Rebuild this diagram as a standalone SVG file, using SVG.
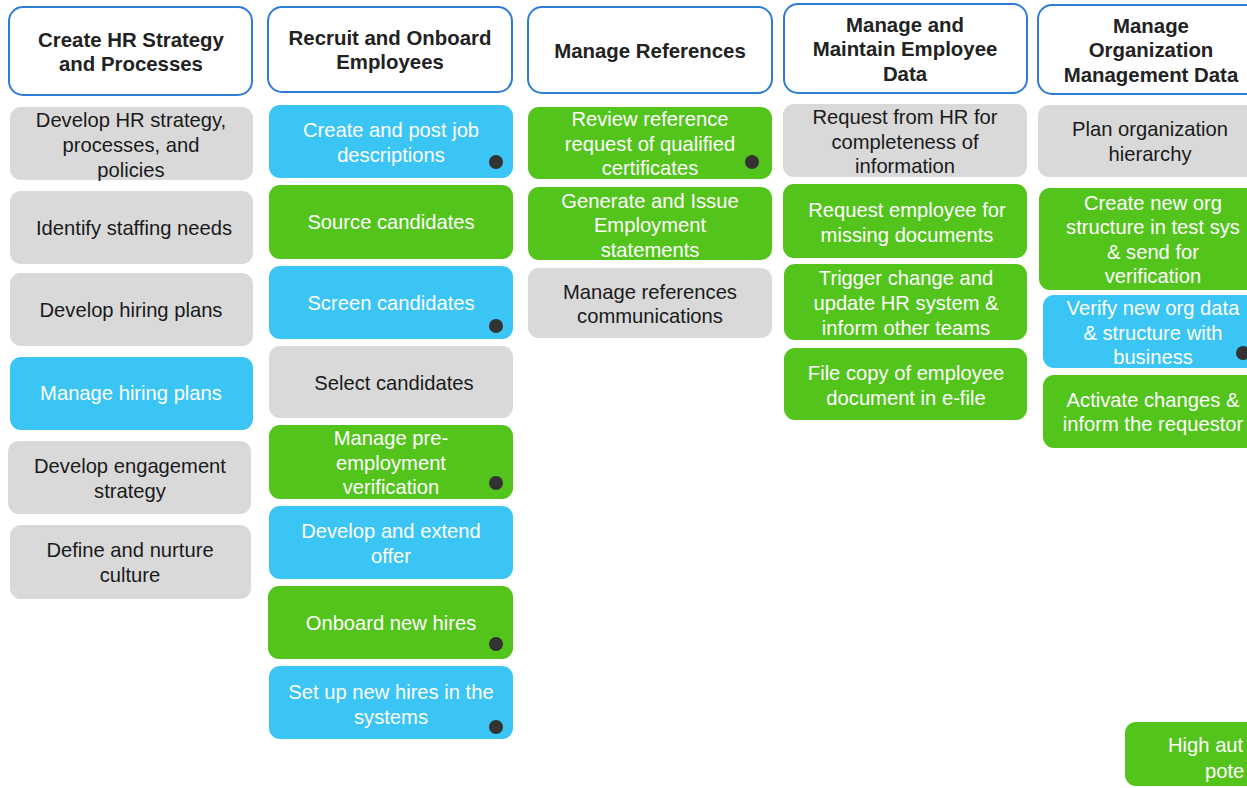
<svg xmlns="http://www.w3.org/2000/svg" width="1247" height="788" viewBox="0 0 1247 788">
<style>
.hd{fill:#ffffff;stroke:#2e7cd6;stroke-width:2}
.ht{font-family:"Liberation Sans",Arial,sans-serif;font-weight:bold;font-size:20.4px;fill:#222222;text-anchor:middle}
.g{fill:#d9d9d9}
.b{fill:#3ac5f5}
.gr{fill:#53c41b}
.t{font-family:"Liberation Sans",Arial,sans-serif;font-size:20.2px;text-anchor:middle}
.dk{fill:#1a1a1a}
.wt{fill:#ffffff}
.dot{fill:#333333}
</style>
<rect width="1247" height="788" fill="#ffffff"/>

<!-- Headers -->
<g id="h1"><rect class="hd" x="9" y="7" width="243" height="88" rx="14"/><text class="ht"><tspan x="131" y="47">Create HR Strategy</tspan><tspan x="131" y="71">and Processes</tspan></text></g>
<g id="h2"><rect class="hd" x="268" y="7" width="244" height="85" rx="14"/><text class="ht"><tspan x="390" y="45">Recruit and Onboard</tspan><tspan x="390" y="69">Employees</tspan></text></g>
<g id="h3"><rect class="hd" x="528" y="7" width="244" height="86" rx="14"/><text class="ht"><tspan x="650" y="58">Manage References</tspan></text></g>
<g id="h4"><rect class="hd" x="784" y="4" width="243" height="89" rx="14"/><text class="ht"><tspan x="905" y="32">Manage and</tspan><tspan x="905" y="56">Maintain Employee</tspan><tspan x="905" y="81">Data</tspan></text></g>
<g id="h5"><rect class="hd" x="1038" y="5" width="227" height="89" rx="14"/><text class="ht"><tspan x="1151" y="33">Manage</tspan><tspan x="1151" y="57">Organization</tspan><tspan x="1151" y="82">Management Data</tspan></text></g>

<!-- Column 1 -->
<g id="c1n1"><rect class="g" x="10" y="107" width="243" height="73" rx="11"/><text class="t dk"><tspan x="131" y="127">Develop HR strategy,</tspan><tspan x="131" y="152">processes, and</tspan><tspan x="131" y="177">policies</tspan></text></g>
<g id="c1n2"><rect class="g" x="10" y="191" width="243" height="73" rx="11"/><text class="t dk"><tspan x="134" y="235">Identify staffing needs</tspan></text></g>
<g id="c1n3"><rect class="g" x="10" y="273" width="243" height="73" rx="11"/><text class="t dk"><tspan x="131" y="317">Develop hiring plans</tspan></text></g>
<g id="c1n4"><rect class="b" x="10" y="357" width="243" height="73" rx="11"/><text class="t wt"><tspan x="131" y="400">Manage hiring plans</tspan></text></g>
<g id="c1n5"><rect class="g" x="8" y="441" width="243" height="73" rx="11"/><text class="t dk"><tspan x="130" y="473">Develop engagement</tspan><tspan x="130" y="498">strategy</tspan></text></g>
<g id="c1n6"><rect class="g" x="10" y="525" width="241" height="74" rx="11"/><text class="t dk"><tspan x="130" y="557">Define and nurture</tspan><tspan x="130" y="582">culture</tspan></text></g>

<!-- Column 2 -->
<g id="c2n1"><rect class="b" x="269" y="105" width="244" height="73" rx="11"/><text class="t wt"><tspan x="391" y="137">Create and post job</tspan><tspan x="391" y="162">descriptions</tspan></text><circle class="dot" cx="496" cy="162" r="7"/></g>
<g id="c2n2"><rect class="gr" x="269" y="185" width="244" height="74" rx="11"/><text class="t wt"><tspan x="391" y="229">Source candidates</tspan></text></g>
<g id="c2n3"><rect class="b" x="269" y="266" width="244" height="73" rx="11"/><text class="t wt"><tspan x="391" y="310">Screen candidates</tspan></text><circle class="dot" cx="496" cy="326" r="7"/></g>
<g id="c2n4"><rect class="g" x="269" y="346" width="244" height="72" rx="11"/><text class="t dk"><tspan x="394" y="390">Select candidates</tspan></text></g>
<g id="c2n5"><rect class="gr" x="269" y="425" width="244" height="74" rx="11"/><text class="t wt"><tspan x="391" y="445">Manage pre-</tspan><tspan x="391" y="470">employment</tspan><tspan x="391" y="494">verification</tspan></text><circle class="dot" cx="496" cy="483" r="7"/></g>
<g id="c2n6"><rect class="b" x="269" y="506" width="244" height="73" rx="11"/><text class="t wt"><tspan x="391" y="538">Develop and extend</tspan><tspan x="391" y="563">offer</tspan></text></g>
<g id="c2n7"><rect class="gr" x="268" y="586" width="245" height="73" rx="11"/><text class="t wt"><tspan x="391" y="630">Onboard new hires</tspan></text><circle class="dot" cx="496" cy="644" r="7"/></g>
<g id="c2n8"><rect class="b" x="269" y="666" width="244" height="73" rx="11"/><text class="t wt"><tspan x="391" y="699">Set up new hires in the</tspan><tspan x="391" y="724">systems</tspan></text><circle class="dot" cx="496" cy="727" r="7"/></g>

<!-- Column 3 -->
<g id="c3n1"><rect class="gr" x="528" y="107" width="244" height="72" rx="11"/><text class="t wt"><tspan x="650" y="126">Review reference</tspan><tspan x="650" y="151">request of qualified</tspan><tspan x="650" y="175">certificates</tspan></text><circle class="dot" cx="752" cy="162" r="7"/></g>
<g id="c3n2"><rect class="gr" x="528" y="187" width="244" height="73" rx="11"/><text class="t wt"><tspan x="650" y="208">Generate and Issue</tspan><tspan x="650" y="232">Employment</tspan><tspan x="650" y="257">statements</tspan></text></g>
<g id="c3n3"><rect class="g" x="528" y="268" width="244" height="70" rx="11"/><text class="t dk"><tspan x="650" y="299">Manage references</tspan><tspan x="650" y="323">communications</tspan></text></g>

<!-- Column 4 -->
<g id="c4n1"><rect class="g" x="783" y="104" width="244" height="73" rx="11"/><text class="t dk"><tspan x="905" y="124">Request from HR for</tspan><tspan x="905" y="149">completeness of</tspan><tspan x="905" y="173">information</tspan></text></g>
<g id="c4n2"><rect class="gr" x="783" y="184" width="244" height="74" rx="11"/><text class="t wt"><tspan x="907" y="217">Request employee for</tspan><tspan x="907" y="242">missing documents</tspan></text></g>
<g id="c4n3"><rect class="gr" x="784" y="264" width="243" height="76" rx="11"/><text class="t wt"><tspan x="906" y="285">Trigger change and</tspan><tspan x="906" y="310">update HR system &amp;</tspan><tspan x="906" y="335">inform other teams</tspan></text></g>
<g id="c4n4"><rect class="gr" x="784" y="348" width="243" height="72" rx="11"/><text class="t wt"><tspan x="906" y="380">File copy of employee</tspan><tspan x="906" y="405">document in e-file</tspan></text></g>

<!-- Column 5 -->
<g id="c5n1"><rect class="g" x="1038" y="105" width="224" height="72" rx="11"/><text class="t dk"><tspan x="1150" y="136">Plan organization</tspan><tspan x="1150" y="161">hierarchy</tspan></text></g>
<g id="c5n2"><rect class="gr" x="1039" y="188" width="223" height="102" rx="11"/><text class="t wt"><tspan x="1153" y="210">Create new org</tspan><tspan x="1153" y="234">structure in test sys</tspan><tspan x="1153" y="259">&amp; send for</tspan><tspan x="1153" y="283">verification</tspan></text></g>
<g id="c5n3"><rect class="b" x="1043" y="295" width="219" height="73" rx="11"/><text class="t wt"><tspan x="1153" y="315">Verify new org data</tspan><tspan x="1153" y="340">&amp; structure with</tspan><tspan x="1153" y="364">business</tspan></text><circle class="dot" cx="1243" cy="353" r="7"/></g>
<g id="c5n4"><rect class="gr" x="1043" y="375" width="219" height="73" rx="11"/><text class="t wt"><tspan x="1153" y="407">Activate changes &amp;</tspan><tspan x="1153" y="431">inform the requestor</tspan></text></g>

<!-- Legend fragment -->
<g id="legend"><rect class="gr" x="1125" y="722" width="200" height="64" rx="11"/><text class="t wt" style="text-anchor:start"><tspan x="1168" y="752">High aut</tspan><tspan x="1205" y="778">pote</tspan></text></g>

<g id="connectors"></g>
</svg>
